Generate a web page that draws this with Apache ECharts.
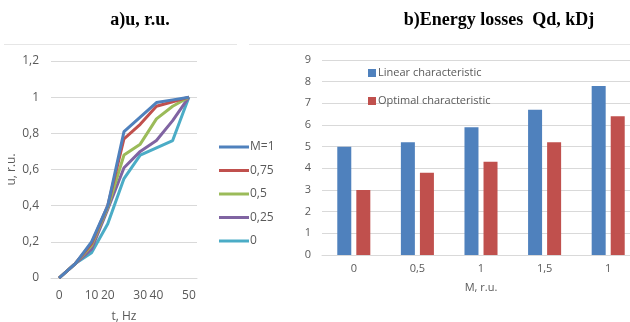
<!DOCTYPE html>
<html>
<head>
<meta charset="utf-8">
<script src="https://cdn.jsdelivr.net/npm/echarts@6/dist/echarts.min.js"></script>
<style>
  html, body { margin: 0; padding: 0; background: #ffffff; }
  #chart { width: 630px; height: 322px; }
</style>
</head>
<body>
<div id="chart"></div>
<script>
// ---- data: (a) per-unit voltage vs frequency for several load factors M ----
const freqCategories = ['p0', 'p1', 'p2', 'p3', 'p4', 'p5', 'p6', 'p7', 'p8'];
const freqTickLabels = ['0', '', '10', '20', '', '30', '40', '', '50'];
const seriesNamesA = ['M=1', '0,75', '0,5', '0,25', '0'];
const uM1   = [0, 0.08, 0.20, 0.40, 0.81, 0.89, 0.97, 0.985, 1];
const uM075 = [0, 0.08, 0.19, 0.40, 0.77, 0.85, 0.95, 0.975, 1];
const uM05  = [0, 0.08, 0.18, 0.39, 0.68, 0.74, 0.88, 0.95, 1];
const uM025 = [0, 0.08, 0.16, 0.38, 0.61, 0.70, 0.76, 0.87, 1];
const uM0   = [0, 0.08, 0.14, 0.30, 0.55, 0.68, 0.72, 0.76, 1];
const yTicksA = [0, 0.2, 0.4, 0.6, 0.8, 1, 1.2];

// ---- data: (b) energy losses for linear vs optimal characteristic ----
const mCategories = ['c0', 'c1', 'c2', 'c3', 'c4'];
const mTickLabels = ['0', '0,5', '1', '1,5', '1'];
const linearLoss  = [5.0, 5.2, 5.9, 6.7, 7.8];
const optimalLoss = [3.0, 3.8, 4.3, 5.2, 6.4];
const seriesNamesB = ['Linear characteristic', 'Optimal characteristic'];

const lineColors = ['#4F81BD', '#C0504D', '#9BBB59', '#8064A2', '#4BACC6'];
const valuesA = [uM1, uM075, uM05, uM025, uM0];
const axisText = '#595959';
const gridGray = '#D9D9D9';
const uiFont = 'Open Sans';

const commaNum = v => String(+(+v).toFixed(1)).replace('.', ',');

const chart = echarts.init(document.getElementById('chart'), null, { renderer: 'canvas' });

const titleStyle = { fontFamily: 'Liberation Serif', fontWeight: 'bold', fontSize: 18, color: '#000' };

const option = {
  backgroundColor: '#ffffff',
  animation: false,
  title: [
    { text: 'a)u, r.u.', left: 135, top: 6, textAlign: 'center', textStyle: titleStyle },
    { text: 'b)Energy losses  Qd, kDj', left: 494, top: 6, textAlign: 'center', textStyle: titleStyle }
  ],
  graphic: [
    { type: 'line', shape: { x1: 4, y1: 44.5, x2: 237, y2: 44.5 }, style: { stroke: '#E6E6E6', lineWidth: 1 } },
    { type: 'line', shape: { x1: 249, y1: 44.5, x2: 630, y2: 44.5 }, style: { stroke: '#E6E6E6', lineWidth: 1 } }
  ],
  legend: [
    {
      data: seriesNamesA,
      orient: 'vertical', left: 219, top: 140, padding: 0,
      itemWidth: 30, itemHeight: 3, itemGap: 9.5, icon: 'rect',
      textStyle: { fontFamily: uiFont, fontSize: 12, color: axisText, padding: [0, 0, 0, -4], lineHeight: 14 }
    },
    {
      data: seriesNamesB,
      orient: 'vertical', left: 368, top: 66, padding: 0,
      itemWidth: 8, itemHeight: 8, itemGap: 14, icon: 'rect',
      textStyle: { fontFamily: uiFont, fontSize: 11, color: axisText, padding: [0, 0, 0, -3], lineHeight: 14 }
    }
  ],
  grid: [
    { left: 51, top: 61, width: 146, height: 217, outerBoundsMode: 'none' },
    { left: 322, top: 60, width: 318, height: 195, outerBoundsMode: 'none' }
  ],
  xAxis: [
    {
      type: 'category', gridIndex: 0, data: freqCategories, boundaryGap: true,
      name: 't, Hz', nameLocation: 'middle', nameGap: 33,
      nameTextStyle: { fontFamily: uiFont, fontSize: 12, color: axisText },
      axisLine: { lineStyle: { color: gridGray } },
      axisTick: { show: false },
      axisLabel: {
        interval: 0, margin: 12, fontFamily: uiFont, fontSize: 12, color: axisText,
        formatter: (v, i) => freqTickLabels[i]
      }
    },
    {
      type: 'category', gridIndex: 1, data: mCategories,
      name: 'M, r.u.', nameLocation: 'middle', nameGap: 27,
      nameTextStyle: { fontFamily: uiFont, fontSize: 11, color: axisText },
      axisLine: { lineStyle: { color: gridGray } },
      axisTick: { show: false },
      axisLabel: {
        interval: 0, margin: 8, fontFamily: uiFont, fontSize: 11, color: axisText,
        formatter: (v, i) => mTickLabels[i]
      }
    }
  ],
  yAxis: [
    {
      type: 'value', gridIndex: 0, min: yTicksA[0], max: yTicksA[yTicksA.length - 1], interval: 0.2,
      name: 'u, r.u.', nameLocation: 'middle', nameGap: 33,
      nameTextStyle: { fontFamily: uiFont, fontSize: 12, color: axisText },
      axisLine: { show: false }, axisTick: { show: false },
      splitLine: { lineStyle: { color: gridGray } },
      axisLabel: { margin: 12, fontFamily: uiFont, fontSize: 12, color: axisText, formatter: commaNum }
    },
    {
      type: 'value', gridIndex: 1, min: 0, max: 9, interval: 1,
      axisLine: { show: false }, axisTick: { show: false },
      splitLine: { lineStyle: { color: gridGray } },
      axisLabel: { margin: 11, fontFamily: uiFont, fontSize: 11, color: axisText }
    }
  ],
  series: [
    ...valuesA.map((vals, k) => ({
      name: seriesNamesA[k], type: 'line', xAxisIndex: 0, yAxisIndex: 0,
      data: vals, showSymbol: false, symbol: 'none',
      lineStyle: { width: 3, color: lineColors[k] }, itemStyle: { color: lineColors[k] },
      z: 10 - k
    })),
    {
      name: seriesNamesB[0], type: 'bar', xAxisIndex: 1, yAxisIndex: 1,
      data: linearLoss, barWidth: 14, barGap: '36%',
      itemStyle: { color: '#4F81BD' }
    },
    {
      name: seriesNamesB[1], type: 'bar', xAxisIndex: 1, yAxisIndex: 1,
      data: optimalLoss, barWidth: 14, barGap: '36%',
      itemStyle: { color: '#C0504D' }
    }
  ]
};

chart.setOption(option);
</script>
</body>
</html>
